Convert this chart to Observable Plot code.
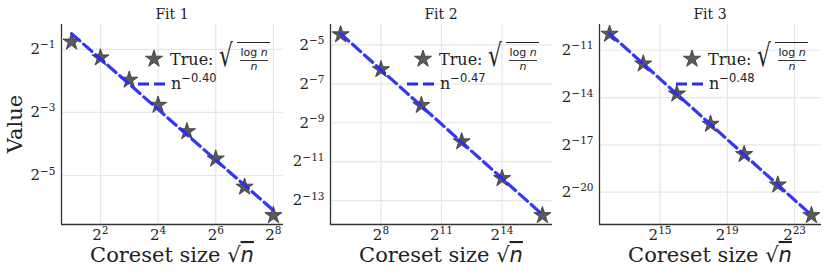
<!DOCTYPE html>
<html>
<head>
<meta charset="utf-8">
<script src="https://cdn.jsdelivr.net/npm/d3@7"></script>
<script src="https://cdn.jsdelivr.net/npm/@observablehq/plot@0.6"></script>
<style>
  html, body { margin: 0; padding: 0; background: #fff; }
  #fig { position: relative; width: 830px; height: 277px; overflow: hidden; }
  #fig svg { position: absolute; top: 0; }
</style>
</head>
<body>
<div id="fig"></div>
<script>
// ---------- data ----------
const titles = ["Fit 1", "Fit 2", "Fit 3"];
const fitLabels = ["−0.40", "−0.47", "−0.48"];

const sizes1 = [2, 4, 8, 16, 32, 64, 128, 256];
const true1  = [0.589, 0.416, 0.255, 0.147, 0.0823, 0.0451, 0.0243, 0.0130];
const fitX1  = [2, 256];
const fitY1  = [0.707, 0.0145];

const sizes2 = [64, 256, 1024, 4096, 16384, 65536];
const true2  = [0.0451, 0.0130, 0.00364, 0.000996, 0.000269, 0.0000720];
const fitX2  = [64, 65536];
const fitY2  = [0.0467, 0.0000741];

const sizes3 = [4096, 16384, 65536, 262144, 1048576, 4194304, 16777216];
const true3  = [0.000996, 0.000269, 0.0000720, 0.00001904, 0.00000503, 0.000001321, 0.0000003443];
const fitX3  = [4096, 16777216];
const fitY3  = [0.001015, 0.000000349];

const xTickExps = [[2, 4, 6, 8], [8, 11, 14], [15, 19, 23]];
const yTickExps = [[-1, -3, -5], [-5, -7, -9, -11, -13], [-11, -14, -17, -20]];

// ---------- style ----------
const SERIF = "DejaVu Serif";
const SANS = "DejaVu Sans";
const BLUE = "#2b2bf5";
const GRID = "#e6e6e6";
const SPINE = "#333";
const INK = "#222";

const panels = [
  {sizes: sizes1, vals: true1, fx: fitX1, fy: fitY1, left: 0,   marginLeft: 61, width: 285},
  {sizes: sizes2, vals: true2, fx: fitX2, fy: fitY2, left: 285, marginLeft: 45, width: 270},
  {sizes: sizes3, vals: true3, fx: fitX3, fy: fitY3, left: 555, marginLeft: 44, width: 275}
];
const marginTop = 24, marginBottom = 53, H = 277;

function logDomain(values) {
  const l = values.map(Math.log2);
  const lo = d3.min(l), hi = d3.max(l), pad = (hi - lo) * 0.05;
  return [2 ** (lo - pad), 2 ** (hi + pad)];
}
const sup = e => "2^" + (e < 0 ? "−" + (-e) : e);

const fig = document.getElementById("fig");

function txt(g, x, y, opts = {}) {
  const t = g.append("text").attr("x", x).attr("y", y)
    .attr("text-anchor", opts.anchor || "start")
    .style("font-family", opts.family || SERIF)
    .style("font-size", (opts.size || 14) + "px")
    .style("font-style", opts.italic ? "italic" : "normal")
    .attr("fill", INK);
  return t;
}

panels.forEach((p, i) => {
  const pts = p.sizes.map((s, k) => ({x: s, y: p.vals[k]}));
  const fit = p.fx.map((s, k) => ({x: s, y: p.fy[k]}));
  const xd = logDomain(p.sizes);
  const yd = logDomain([...p.vals, ...p.fy]);
  const xt = xTickExps[i].map(e => 2 ** e);
  const yt = yTickExps[i].map(e => 2 ** e);
  const marginRight = p.width - p.marginLeft - 222;

  const svg = Plot.plot({
    width: p.width, height: H,
    marginLeft: p.marginLeft, marginRight, marginTop, marginBottom,
    style: {fontFamily: SERIF, background: "transparent", overflow: "visible"},
    x: {type: "log", base: 2, domain: xd},
    y: {type: "log", base: 2, domain: yd},
    marks: [
      Plot.gridX(xt, {stroke: GRID, strokeOpacity: 1, strokeWidth: 1.2}),
      Plot.gridY(yt, {stroke: GRID, strokeOpacity: 1, strokeWidth: 1.2}),
      Plot.axisX(xt, {tickSize: 0, tickPadding: 5, fontSize: 15, fill: INK,
        tickFormat: v => sup(Math.round(Math.log2(v))), label: null}),
      Plot.axisY(yt, {tickSize: 0, tickPadding: 6, fontSize: 15, fill: INK,
        tickFormat: v => sup(Math.round(Math.log2(v))), label: null}),
      Plot.ruleX([xd[0]], {stroke: SPINE, strokeWidth: 1.3}),
      Plot.ruleY([yd[0]], {stroke: SPINE, strokeWidth: 1.3}),
      Plot.dot(pts, {x: "x", y: "y", symbol: "star", r: 5.4, fill: "#5a5a5a", stroke: "#333", strokeWidth: 0.8}),
      Plot.line(fit, {x: "x", y: "y", stroke: BLUE, strokeWidth: 3.2, strokeDasharray: "11,5", strokeOpacity: 0.95})
    ]
  });
  svg.style.left = p.left + "px";

  // superscript tick labels
  d3.select(svg).selectAll("text").each(function() {
    const m = /^2\^(.+)$/.exec(this.textContent);
    if (m) {
      const s = d3.select(this);
      s.text("2");
      s.append("tspan").attr("dy", "-0.55em").style("font-size", "10.5px").text(m[1]);
    }
  });

  const g = d3.select(svg).append("g");
  const L = p.marginLeft, R = p.marginLeft + 222;
  const cx = (L + R) / 2;

  // title
  txt(g, cx, 19, {anchor: "middle", size: 14}).text(titles[i]);

  // x label: Coreset size √n
  const xl = txt(g, cx, 262, {anchor: "middle", size: 21});
  xl.append("tspan").text("Coreset size ");
  xl.append("tspan").style("font-family", SANS).text("√");
  xl.append("tspan").style("font-family", SANS).style("font-style", "italic")
    .style("text-decoration", "overline").text("n");

  // y label on first panel
  if (i === 0) {
    txt(g, 0, 0, {anchor: "middle", size: 21})
      .attr("transform", `translate(22,${(marginTop + H - marginBottom) / 2}) rotate(-90)`)
      .text("Value");
  }

  // legend
  const star = d3.symbol(d3.symbolStar, Math.PI * 5.4 * 5.4)();
  g.append("path").attr("d", star).attr("transform", `translate(${R - 129},59)`)
    .attr("fill", "#5a5a5a").attr("stroke", "#333").attr("stroke-width", 0.8);
  txt(g, R - 113, 65, {size: 16}).text("True:");
  txt(g, 0, 0, {family: SANS, size: 31})
    .attr("transform", `translate(${R - 64},66) scale(0.7,1)`).text("√");
  g.append("line").attr("x1", R - 46).attr("x2", R - 13).attr("y1", 42.5).attr("y2", 42.5)
    .attr("stroke", INK).attr("stroke-width", 1.1);
  const num = txt(g, R - 29, 56, {anchor: "middle", family: SANS, size: 11});
  num.append("tspan").text("log ");
  num.append("tspan").style("font-style", "italic").text("n");
  g.append("line").attr("x1", R - 43).attr("x2", R - 15).attr("y1", 60.5).attr("y2", 60.5)
    .attr("stroke", INK).attr("stroke-width", 0.9);
  txt(g, R - 29, 70, {anchor: "middle", family: SANS, size: 11, italic: true}).text("n");

  g.append("line").attr("x1", R - 145).attr("x2", R - 116).attr("y1", 84).attr("y2", 84)
    .attr("stroke", BLUE).attr("stroke-width", 3.2).attr("stroke-dasharray", "11,5");
  const fl = txt(g, R - 112, 89, {size: 16});
  fl.append("tspan").text("n");
  fl.append("tspan").style("font-family", SANS).style("font-size", "11.5px").attr("dy", -7).text(fitLabels[i]);

  fig.appendChild(svg);
});
</script>
</body>
</html>
